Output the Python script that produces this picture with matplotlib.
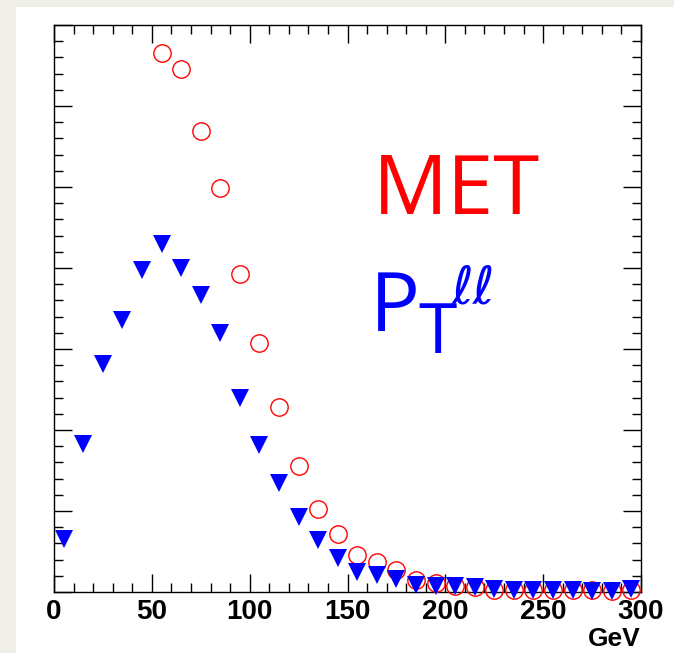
import matplotlib
matplotlib.use("Agg")
import matplotlib.pyplot as plt
import numpy as np
from matplotlib.patches import Rectangle
from matplotlib.ticker import MultipleLocator

# bin centres (GeV)
x_pt = [5, 15, 25, 35, 45, 55, 65, 75, 85, 95, 105, 115, 125, 135, 145,
        155, 165, 175, 185, 195, 205, 215, 225, 235, 245, 255, 265, 275, 285, 295]
y_pt = [0.65, 1.83, 2.82, 3.36, 3.98, 4.30, 4.00, 3.67, 3.20, 2.39, 1.82, 1.35, 0.92, 0.64, 0.42,
        0.25, 0.21, 0.16, 0.09, 0.07, 0.07, 0.06, 0.04, 0.03, 0.03, 0.02, 0.02, 0.01, 0.01, 0.04]

x_met = [55, 65, 75, 85, 95, 105, 115, 125, 135, 145, 155, 165, 175, 185, 195,
         205, 215, 225, 235, 245, 255, 265, 275, 285, 295]
y_met = [6.65, 6.46, 5.69, 4.99, 3.92, 3.07, 2.28, 1.55, 1.03, 0.71, 0.46, 0.37, 0.27, 0.15, 0.11,
         0.07, 0.06, 0.03, 0.03, 0.03, 0.02, 0.02, 0.02, 0.01, 0.03]

W, H = 674, 653
fig = plt.figure(figsize=(W / 100, H / 100), dpi=100)
fig.patch.set_facecolor("#efefe8")
# white pad
fig.patches.append(Rectangle((16 / W, 0), 1 - 16 / W, 1 - 7 / H, transform=fig.transFigure,
                             facecolor="white", edgecolor="none", zorder=-5))

ax = fig.add_axes([54 / W, 1 - 592 / H, 587 / W, 567 / H])
ax.set_zorder(2)
ax.set_facecolor("white")

ax.plot(x_met, y_met, linestyle="none", marker="o", markersize=12.5, markerfacecolor="none",
        markeredgecolor="#ff0000", markeredgewidth=1.0, clip_on=False, zorder=3)
ax.plot(x_pt, y_pt, linestyle="none", marker="v", markersize=13.5, color="#0000ff",
        markeredgewidth=0, clip_on=False, zorder=4)

ax.set_xlim(0, 300)
ax.set_ylim(0, 7)
ax.xaxis.set_major_locator(MultipleLocator(50))
ax.xaxis.set_minor_locator(MultipleLocator(10))
ax.yaxis.set_major_locator(MultipleLocator(1))
ax.yaxis.set_minor_locator(MultipleLocator(0.2))
ax.tick_params(which="both", direction="in", top=True, right=True, width=1, color="black")
ax.tick_params(which="major", length=13)
ax.tick_params(which="minor", length=6.5)
ax.tick_params(axis="y", labelleft=False)
ax.tick_params(axis="x", pad=5)
for lab in ax.get_xticklabels():
    lab.set_fontfamily("Liberation Sans")
    lab.set_fontweight("bold")
    lab.set_fontsize(20)
for sp in ax.spines.values():
    sp.set_linewidth(1.0)

fig.text(641 / W, 1 - 646 / H, "GeV", ha="right", va="baseline",
         fontfamily="Liberation Sans", fontweight="bold", fontsize=19)

def px(x, y):
    return x / W, 1 - y / H

fig.text(*px(373, 214), "MET", color="#ff0000", fontfamily="Open Sans", fontsize=60, va="baseline")
fig.text(*px(370, 331), "P", color="#0000ff", fontfamily="Open Sans", fontsize=60, va="baseline")
fig.text(*px(418, 353), "T", color="#0000ff", fontfamily="Open Sans", fontsize=50, va="baseline")
fig.text(*px(452, 303), "ℓℓ", color="#0000ff", fontfamily="DejaVu Sans", fontstyle="italic",
         fontsize=38, va="baseline")

fig.savefig("out.png", dpi=100, facecolor=fig.get_facecolor())
